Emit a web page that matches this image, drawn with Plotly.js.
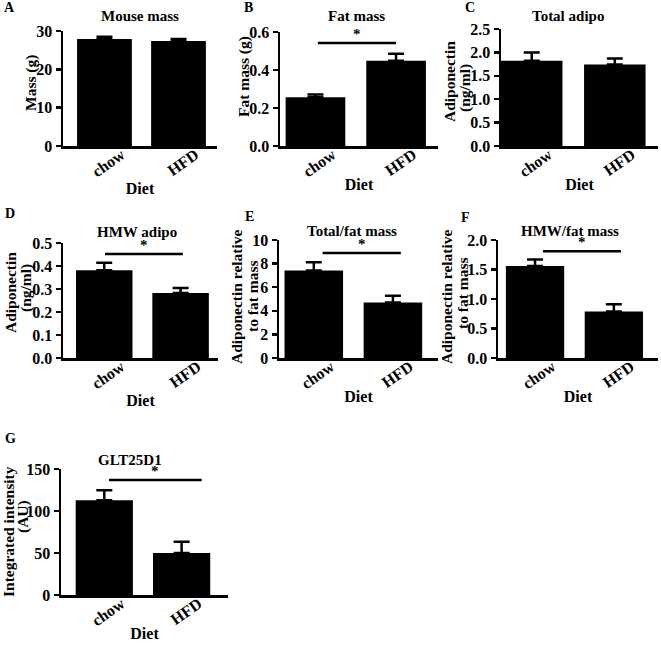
<!DOCTYPE html>
<html><head><meta charset="utf-8">
<script src="https://cdn.plot.ly/plotly-3.0.1.min.js"></script>
<style>html,body{margin:0;padding:0;background:#fff}#chart{width:661px;height:645px}</style>
</head><body><div id="chart"></div>
<script>
const categories = ['chow', 'HFD'];
// Mean values and upper SEM
const mouseMass = [27.9, 27.4];
const mouseMassErr = [0.6, 0.5];
const fatMass = [0.257, 0.449];
const fatMassErr = [0.014, 0.037];
const totalAdipo = [1.82, 1.74];
const totalAdipoErr = [0.18, 0.13];
const hmwAdipo = [0.381, 0.283];
const hmwAdipoErr = [0.033, 0.021];
const totalPerFat = [7.41, 4.70];
const totalPerFatErr = [0.70, 0.57];
const hmwPerFat = [1.56, 0.79];
const hmwPerFatErr = [0.11, 0.12];
const glt25d1 = [112.7, 50.0];
const glt25d1Err = [11.9, 13.5];
const panelLetters = ['A', 'B', 'C', 'D', 'E', 'F', 'G'];
const panelTitles = ['Mouse mass', 'Fat mass', 'Total adipo', 'HMW adipo', 'Total/fat mass', 'HMW/fat mass', 'GLT25D1'];
const yTitleLines = [['Mass (g)'], ['Fat mass (g)'], ['Adiponectin', '(ng/ml)'], ['Adiponectin', '(ng/ml)'],
  ['Adiponectin relative', 'to fat mass'], ['Adiponectin relative', 'to fat mass'], ['Integrated intensity', '(AU)']];
const xTitle = 'Diet';
const sigLabel = '*';

const W = 661, H = 645;
const FONT = 'Liberation Serif, Times New Roman, serif';

// Panel geometry in pixels: [axisLeft, axisRight, yTop, yZero]; ytl = y-title line centres (px)
const panels = [
  {vals: mouseMass, err: mouseMassErr, px: [63, 217, 31, 146], ymax: 30, dtick: 10, fmt: 'd', xr: [-0.56, 1.52], letter: [9, 7], title: [140, 16], ytl: [[31, 83]], sig: null},
  {vals: fatMass, err: fatMassErr, px: [280, 438, 32, 146], ymax: 0.6, dtick: 0.2, fmt: '.1f', xr: [-0.44, 1.52], letter: [248, 7], title: [357, 16], ytl: [[244, 77]], sig: {y: 0.542, x0: 0.03, x1: 1.0}},
  {vals: totalAdipo, err: totalAdipoErr, px: [501, 658, 29, 146], ymax: 2.5, dtick: 0.5, fmt: '.1f', xr: [-0.37, 1.52], letter: [470, 7], title: [568, 16], ytl: [[449, 82], [465, 88]], sig: null},
  {vals: hmwAdipo, err: hmwAdipoErr, px: [63, 218, 243, 358], ymax: 0.5, dtick: 0.1, fmt: '.1f', xr: [-0.54, 1.49], letter: [10, 213], title: [137, 232], ytl: [[10, 293], [26, 288]], sig: {y: 0.452, x0: 0.01, x1: 1.03}},
  {vals: totalPerFat, err: totalPerFatErr, px: [279, 438, 240, 358], ymax: 10, dtick: 2, fmt: 'd', xr: [-0.44, 1.57], letter: [250, 216], title: [352, 231], ytl: [[236, 297], [252, 297]], sig: {y: 8.9, x0: 0.11, x1: 1.1}},
  {vals: hmwPerFat, err: hmwPerFatErr, px: [498, 658, 240, 358], ymax: 2.0, dtick: 0.5, fmt: '.1f', xr: [-0.47, 1.56], letter: [465, 217], title: [570, 231], ytl: [[446, 297], [462, 293]], sig: {y: 1.81, x0: 0.1, x1: 1.09}},
  {vals: glt25d1, err: glt25d1Err, px: [61, 228, 469, 595], ymax: 150, dtick: 50, fmt: 'd', xr: [-0.56, 1.6], letter: [10, 438], title: [130, 460], ytl: [[8, 532], [23, 517]], sig: {y: 137, x0: 0.06, x1: 1.26}}
];

const traces = [];
const layout = {
  width: W, height: H, margin: {l: 0, r: 0, t: 0, b: 0},
  paper_bgcolor: '#fff', plot_bgcolor: '#fff', showlegend: false,
  font: {family: FONT, color: '#000'},
  annotations: [], shapes: []
};

panels.forEach((p, i) => {
  const n = i + 1;
  const xa = n === 1 ? 'x' : 'x' + n;
  const ya = n === 1 ? 'y' : 'y' + n;
  const xk = n === 1 ? 'xaxis' : 'xaxis' + n;
  const yk = n === 1 ? 'yaxis' : 'yaxis' + n;
  traces.push({
    type: 'bar', x: categories, y: p.vals, xaxis: xa, yaxis: ya, width: 0.74,
    marker: {color: '#000', line: {width: 0}},
    error_y: {type: 'data', array: p.err, arrayminus: [0, 0], symmetric: false, color: '#000', thickness: 2.5, width: 8},
    hoverinfo: 'skip'
  });
  const [l, r, t, b] = p.px;
  layout[xk] = {
    domain: [l / W, r / W], anchor: ya, type: 'category', range: p.xr,
    showline: true, linewidth: 2.5, linecolor: '#000', ticks: '', showgrid: false, zeroline: false,
    tickangle: -35, tickfont: {family: FONT, size: 16, color: '#000', weight: 'bold'},
    ticklabelshift: 17, ticklabelstandoff: -9,
    title: {text: '<b>' + xTitle + '</b>', font: {family: FONT, size: 16, color: '#000'}, standoff: 0},
    fixedrange: true, automargin: false
  };
  layout[yk] = {
    domain: [1 - b / H, 1 - t / H], anchor: xa, range: [0, p.ymax], dtick: p.dtick, tick0: 0, tickformat: p.fmt,
    showline: true, linewidth: 2.5, linecolor: '#000', ticks: 'outside', ticklen: 5, tickwidth: 2.5, tickcolor: '#000',
    showgrid: false, zeroline: false,
    tickfont: {family: FONT, size: 16, color: '#000', weight: 'bold'},
    fixedrange: true, automargin: false
  };
  yTitleLines[i].forEach((line, k) => {
    layout.annotations.push({
      xref: 'paper', yref: 'paper', x: p.ytl[k][0] / W, y: 1 - p.ytl[k][1] / H, xanchor: 'center', yanchor: 'middle',
      text: '<b>' + line + '</b>', textangle: -90, showarrow: false, font: {family: FONT, size: 15.5, color: '#000'}
    });
  });
  layout.annotations.push({
    xref: 'paper', yref: 'paper', x: p.letter[0] / W, y: 1 - p.letter[1] / H, xanchor: 'center', yanchor: 'middle',
    text: '<b>' + panelLetters[i] + '</b>', showarrow: false, font: {family: FONT, size: 14, color: '#000'}
  });
  layout.annotations.push({
    xref: 'paper', yref: 'paper', x: p.title[0] / W, y: 1 - p.title[1] / H, xanchor: 'center', yanchor: 'middle',
    text: '<b>' + panelTitles[i] + '</b>', showarrow: false, font: {family: FONT, size: 15, color: '#000'}
  });
  if (p.sig) {
    layout.shapes.push({type: 'line', xref: xa, yref: ya, x0: p.sig.x0, x1: p.sig.x1, y0: p.sig.y, y1: p.sig.y,
      line: {color: '#000', width: 2.5}});
    layout.annotations.push({
      xref: xa, yref: ya, x: (p.sig.x0 + p.sig.x1) / 2, y: p.sig.y, yshift: 9, xanchor: 'center', yanchor: 'middle',
      text: '<b>' + sigLabel + '</b>', showarrow: false, font: {family: FONT, size: 15, color: '#000'}
    });
  }
});

Plotly.newPlot('chart', traces, layout, {staticPlot: true, displayModeBar: false});
</script></body></html>
